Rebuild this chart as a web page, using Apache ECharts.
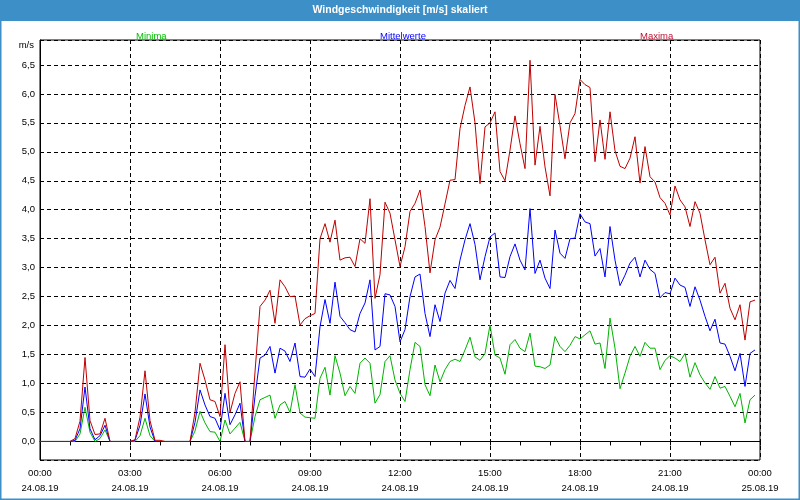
<!DOCTYPE html>
<html>
<head>
<meta charset="utf-8">
<script src="https://cdn.jsdelivr.net/npm/echarts@6/dist/echarts.min.js"></script>
<style>
  html, body { margin: 0; padding: 0; background: #ffffff; }
  #chart { width: 800px; height: 500px; }
</style>
</head>
<body>
<div id="chart"></div>
<script>
// 10-minute values, 24.08.19 00:00 .. 23:50
const stepMinutes = 10;
const maxima = [
  0,0,0,0,0,0,0,0.05,0.35,1.45, 0.36,0.12,0.13,0.4,0,0,0,0,0,0.03,
  0.42,1.22,0.36,0.02,0.02,0,0,0,0,0, 0,0.5,1.35,1.06,0.72,0.69,0.43,1.67,0.5,0.83,
  1.03,0,0,1.2,2.33,2.44,2.61,2.04,2.79,2.67, 2.5,2.51,2.01,2.12,2.17,2.21,3.5,3.76,3.44,3.82,
  3.13,3.17,3.18,3.02,3.5,3.42,4.19,2.47,2.88,4.13, 3.94,3.48,3.02,3.36,3.97,4.11,4.34,3.71,2.91,3.48,
  3.7,4.1,4.51,4.52,5.4,5.8,6.12,5.5,4.45,5.43, 5.5,5.69,4.66,4.5,5.03,5.62,5.14,4.71,6.58,4.77,
  5.44,4.74,4.24,5.99,5.45,4.88,5.5,5.66,6.25,6.16, 6.11,4.83,5.55,4.87,5.69,5.02,4.75,4.71,4.89,5.26,
  4.46,5.09,4.57,4.48,4.21,4.11,3.91,4.41,4.17,4.05, 3.71,4.14,3.94,3.48,3.05,3.18,2.56,2.73,2.3,2.1,
  2.36,1.75,2.41,2.44
];
const mittelwerte = [
  0,0,0,0,0,0,0,0.02,0.22,0.94, 0.22,0.03,0.1,0.28,0,0,0,0,0,0.02,
  0.28,0.82,0.25,0,0,0,0,0,0,0, 0,0.33,0.89,0.63,0.43,0.4,0.2,0.83,0.29,0.46,
  0.66,0,0,0.78,1.44,1.49,1.64,1.18,1.61,1.56, 1.38,1.7,1.12,1.11,1.25,1.12,1.98,2.45,2.04,2.75,
  2.16,2.05,1.93,1.89,2.21,2.39,2.79,1.58,1.64,2.55, 2.53,2.33,1.72,1.93,2.5,2.84,2.89,2.21,1.81,2.36,
  2.07,2.56,2.78,2.64,3.13,3.48,3.76,3.4,2.79,3.19, 3.53,3.6,2.84,2.83,3.19,3.41,3.13,2.96,4.02,2.9,
  3.13,2.82,2.64,3.65,3.25,3.16,3.5,3.51,3.93,3.79, 3.76,3.2,3.33,2.84,3.71,3.13,2.69,2.87,3.08,3.18,
  2.84,3.13,2.97,2.9,2.48,2.57,2.55,2.82,2.7,2.66, 2.33,2.67,2.44,2.16,1.91,2.11,1.7,1.68,1.47,1.22,
  1.52,0.95,1.52,1.58
];
const minima = [
  0,0,0,0,0,0,0,0,0.13,0.59, 0.16,0,0.05,0.2,0,0,0,0,0,0,
  0.1,0.4,0.1,0,0,0,0,0,0,0, 0,0.18,0.52,0.32,0.17,0.16,0,0.37,0.13,0.23,
  0.33,0,0,0.43,0.72,0.76,0.8,0.4,0.63,0.69, 0.5,0.98,0.49,0.42,0.41,0.4,1.09,1.28,0.8,1.48,
  1.18,0.79,0.95,0.83,1.35,1.44,1.35,0.66,0.81,1.38, 1.48,1.06,0.83,0.69,1.24,1.71,1.64,0.98,0.79,1.32,
  1.03,1.24,1.38,1.42,1.38,1.58,1.8,1.46,1.4,1.52, 2.01,1.49,1.44,1.16,1.67,1.76,1.61,1.55,1.87,1.3,
  1.29,1.26,1.32,1.81,1.64,1.55,1.66,1.81,1.77,1.84, 1.91,1.68,1.7,1.26,2.13,1.61,0.91,1.18,1.47,1.64,
  1.47,1.71,1.61,1.61,1.24,1.4,1.48,1.44,1.38,1.52, 1.11,1.36,1.15,1.01,0.9,1.12,0.92,0.95,0.78,0.6,
  0.83,0.32,0.72,0.8
];
const timeLabels = ['00:00','03:00','06:00','09:00','12:00','15:00','18:00','21:00','00:00'];
const dateLabels = ['24.08.19','24.08.19','24.08.19','24.08.19','24.08.19','24.08.19','24.08.19','24.08.19','25.08.19'];
const seriesNames = ['Minima', 'Mittelwerte', 'Maxima'];

const FONT = 'Liberation Sans';
const toPairs = arr => arr.map((v, i) => [i * stepMinutes, v]);

const chart = echarts.init(document.getElementById('chart'), null, { renderer: 'canvas' });
chart.setOption({
  animation: false,
  backgroundColor: '#ffffff',
  title: {
    text: 'Windgeschwindigkeit [m/s] skaliert',
    left: 'center',
    top: 3,
    padding: 0,
    textStyle: { color: '#ffffff', fontFamily: FONT, fontSize: 10.5, fontWeight: 'bold', lineHeight: 14 }
  },
  graphic: [
    { type: 'rect', z: -10, shape: { x: 0, y: 0, width: 800, height: 21 }, style: { fill: '#3d8fc8' } },
    { type: 'rect', z: -10, shape: { x: 0.5, y: 0.5, width: 799, height: 499 }, style: { fill: null, stroke: '#3d8fc8', lineWidth: 2 } }
  ],
  legend: [
    { data: [seriesNames[0]], left: 126, top: 26, icon: 'none', itemWidth: 0, itemHeight: 10, selectedMode: false,
      textStyle: { color: '#00c000', fontFamily: FONT, fontSize: 9.5 } },
    { data: [seriesNames[1]], left: 370, top: 26, icon: 'none', itemWidth: 0, itemHeight: 10, selectedMode: false,
      textStyle: { color: '#0000ff', fontFamily: FONT, fontSize: 9.5 } },
    { data: [seriesNames[2]], left: 630, top: 26, icon: 'none', itemWidth: 0, itemHeight: 10, selectedMode: false,
      textStyle: { color: '#c01030', fontFamily: FONT, fontSize: 9.5 } }
  ],
  grid: {
    left: 40, right: 40, top: 40, bottom: 40,
    show: true, borderColor: '#000000', borderWidth: 1, backgroundColor: '#ffffff'
  },
  xAxis: {
    type: 'value',
    min: 0, max: 1440, interval: 180,
    axisLine: { show: true, lineStyle: { color: '#000000', width: 1 } },
    axisTick: { show: true, length: 4, lineStyle: { color: '#000000' } },
    minorTick: { show: true, splitNumber: 3, length: 4, lineStyle: { color: '#000000' } },
    splitLine: { show: true, lineStyle: { color: '#000000', type: [4, 3], width: 1 } },
    axisLabel: {
      color: '#000000', fontFamily: FONT, fontSize: 9.5, lineHeight: 15, margin: 6,
      formatter: v => { const k = Math.round(v / 180); return timeLabels[k] + '\n' + dateLabels[k]; }
    }
  },
  yAxis: {
    type: 'value',
    min: -0.32, max: 6.93, splitNumber: 14, minInterval: 0.5, maxInterval: 0.5,
    name: 'm/s', nameLocation: 'end', nameGap: -5,
    nameTextStyle: { color: '#000000', fontFamily: FONT, fontSize: 9.5, align: 'right', verticalAlign: 'middle', padding: [0, 6, 0, 0] },
    axisLine: { show: true, lineStyle: { color: '#000000', width: 1 } },
    axisTick: { show: false },
    splitLine: { show: true, lineStyle: { color: '#000000', type: [4, 3], width: 1 } },
    axisLabel: {
      color: '#000000', fontFamily: FONT, fontSize: 9.5, margin: 5,
      showMinLabel: false, showMaxLabel: false,
      formatter: v => v.toFixed(1).replace('.', ',')
    }
  },
  series: [
    { name: seriesNames[0], type: 'line', data: toPairs(minima), showSymbol: false, color: '#00b400',
      lineStyle: { width: 1, color: '#00b400' }, z: 3 },
    { name: seriesNames[1], type: 'line', data: toPairs(mittelwerte), showSymbol: false, color: '#0000ff',
      lineStyle: { width: 1, color: '#0000ff' }, z: 4 },
    { name: seriesNames[2], type: 'line', data: toPairs(maxima), showSymbol: false, color: '#c00000',
      lineStyle: { width: 1, color: '#c00000' }, z: 5 }
  ]
});
</script>
</body>
</html>
